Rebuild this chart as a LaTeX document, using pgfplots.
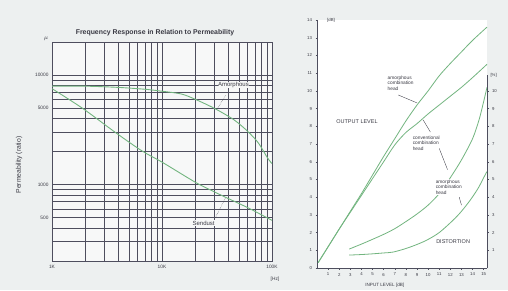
\documentclass[border=0pt]{standalone}
\usepackage{fontspec}
\setmainfont{Liberation Sans}
\usepackage{pgfplots}
\pgfplotsset{compat=1.18}
\definecolor{bgc}{HTML}{EDF0F0}
\definecolor{plotbg}{HTML}{F7F8F8}
\definecolor{gridc}{HTML}{4E4E5E}
\definecolor{crv}{HTML}{72B57F}
\definecolor{txt}{HTML}{3A3A44}
\begin{document}
\begin{tikzpicture}[x=1pt,y=1pt]
\useasboundingbox (0,0) rectangle (508,290);
\fill[bgc] (0,0) rectangle (508,290);
% ---------------- left chart ----------------
\begin{axis}[
  at={(52pt,29pt)}, anchor=south west,
  scale only axis, width=220pt, height=219pt,
  xmode=log, ymode=log,
  xmin=1000, xmax=100000, ymin=200, ymax=20000,
  xtick={1000,10000,100000}, xticklabels={1K,10K,100K},
  minor xtick={2000,3000,4000,5000,6000,7000,8000,9000,20000,30000,40000,50000,60000,70000,80000,90000},
  ytick={1000,10000}, yticklabels={1000,10000},
  extra y ticks={500,5000}, extra y tick labels={500,5000},
  minor ytick={200,300,400,500,600,700,800,900,2000,3000,4000,5000,6000,7000,8000,9000,20000},
  grid=both,
  major grid style={gridc, line width=0.6pt},
  minor grid style={gridc, line width=0.45pt},
  extra y tick style={grid=major},
  axis line style={gridc, line width=0.7pt},
  axis background/.style={fill=plotbg},
  tick style={draw=none},
  /pgf/number format/assume math mode=true,
  ticklabel style={font=\fontsize{4.8}{5}\selectfont, text=txt},
  xticklabel style={yshift=-1pt},
  clip=true,
]
\addplot[crv, line width=0.9pt, smooth] coordinates {
 (1000,7900) (2000,7900) (4000,7700) (7000,7400) (10000,7100) (15000,6700)
 (20000,6000) (30000,4950) (45000,3900) (60000,3060) (75000,2400) (91000,1750) (100000,1550)};
\addplot[crv, line width=0.9pt, smooth] coordinates {
 (1000,7500) (1900,4950) (3850,2940) (6600,2020) (10000,1600) (20000,1050)
 (28000,884) (37800,764) (60000,615) (91000,494) (100000,470)};
\node[font=\fontsize{6}{7}\selectfont, text=txt, fill=plotbg, inner sep=0.5pt] at (axis cs:44600,8130) {Amorphous};
\draw[txt, line width=0.4pt, densely dotted] (axis cs:37800,6480) -- (axis cs:32000,4950);
\node[font=\fontsize{6}{7}\selectfont, text=txt, fill=plotbg, inner sep=0.5pt] at (axis cs:23900,446) {Sendust};
\draw[txt, line width=0.4pt, densely dotted] (axis cs:30600,500) -- (axis cs:37800,755);
\end{axis}
\node[font=\bfseries\fontsize{6.9}{8}\selectfont, text=txt] at (155,257) {Frequency Response in Relation to Permeability};
\node[font=\fontsize{6}{7}\selectfont, text=txt] at (46,251) {$\mu$};
\node[font=\fontsize{6.8}{8}\selectfont, text=txt, rotate=90] at (19,125) {Permeability (ratio)};
\node[font=\fontsize{4.8}{5}\selectfont, text=txt] at (275,11) {[Hz]};
% ---------------- right chart ----------------
\begin{axis}[
  at={(317pt,22pt)}, anchor=south west,
  scale only axis, width=170pt, height=248pt,
  xmin=0, xmax=15.3, ymin=0, ymax=14,
  axis x line*=bottom, axis y line*=left,
  axis line style={-, gridc, line width=0.6pt},
  axis background/.style={fill=white},
  xtick={1,2,...,15}, ytick={0,1,...,14},
  tick style={gridc, line width=0.4pt}, tick align=outside,
  major tick length=1.5pt,
  /pgf/number format/assume math mode=true,
  ticklabel style={font=\fontsize{4.3}{5}\selectfont, text=txt},
  clip=false,
]
\addplot[crv, line width=0.8pt, smooth] coordinates {
 (0.1,0.3) (1,1.2) (2,2.2) (3,3.2) (4,4.2) (5,5.25) (6,6.3) (7,7.3) (8,8.3)
 (9,9.2) (10,10.0) (11,10.85) (12,11.55) (13,12.2) (14,12.85) (15.3,13.6)};
\addplot[crv, line width=0.8pt, smooth] coordinates {
 (0.1,0.3) (1,1.2) (2,2.2) (3,3.15) (4,4.1) (5,5.05) (6,6.0) (7,6.95) (8,7.65)
 (9,8.15) (10,8.7) (11,9.2) (12,9.7) (13,10.2) (14,10.75) (15.3,11.5)};
\addplot[crv, line width=0.8pt, smooth] coordinates {
 (2.9,1.07) (4,1.35) (5,1.62) (6,1.9) (7,2.22) (8,2.62) (9,3.05) (10,3.55)
 (11,4.2) (12,5.1) (13,6.1) (14,7.3) (14.6,8.4) (15,9.4) (15.3,10.2)};
\addplot[crv, line width=0.8pt, smooth] coordinates {
 (2.9,0.73) (4,0.76) (5,0.8) (6,0.85) (6.85,0.9) (8,1.1) (9,1.33) (9.9,1.58)
 (11,2.0) (12.25,2.7) (13,3.2) (13.8,3.84) (14.5,4.5) (15,5.1) (15.3,5.45)};
\node[font=\fontsize{4.8}{5.4}\selectfont, text=txt, align=left, anchor=west, fill=white, inner sep=0.5pt] at (axis cs:6.3,10.45) {amorphous\\combination\\head};
\draw[txt, line width=0.35pt] (axis cs:7.3,9.77) -- (axis cs:9.0,9.32);
\node[font=\fontsize{5.5}{6}\selectfont, text=txt] at (axis cs:3.6,8.24) {OUTPUT LEVEL};
\node[font=\fontsize{4.8}{5.4}\selectfont, text=txt, align=left, anchor=west, fill=white, inner sep=0.5pt] at (axis cs:8.56,7.06) {conventional\\combination\\head};
\draw[txt, line width=0.35pt] (axis cs:10.2,7.68) -- (axis cs:9.55,8.36);
\draw[txt, line width=0.35pt] (axis cs:11.0,6.75) -- (axis cs:11.75,5.55);
\node[font=\fontsize{4.8}{5.4}\selectfont, text=txt, align=left, anchor=west, fill=white, inner sep=0.5pt] at (axis cs:10.63,4.57) {amorphous\\combination\\head};
\draw[txt, line width=0.35pt] (axis cs:12.8,4.0) -- (axis cs:13.0,3.55);
\node[font=\fontsize{5.5}{6}\selectfont, text=txt] at (axis cs:12.25,1.47) {DISTORTION};
\node[font=\fontsize{4.3}{5}\selectfont, text=txt, anchor=west] at (axis cs:0.6,14) {[dB]};
\node[font=\fontsize{4.6}{5}\selectfont, text=txt] at (axis cs:6.1,-1.0) {INPUT LEVEL [dB]};
\end{axis}
\begin{axis}[
  at={(317pt,22pt)}, anchor=south west,
  scale only axis, width=170pt, height=193.1pt,
  xmin=0, xmax=15.3, ymin=0, ymax=10.9,
  axis y line*=right, axis x line=none,
  axis line style={-, gridc, line width=0.6pt},
  ytick={1,2,...,10},
  tick style={gridc, line width=0.4pt}, tick align=outside,
  major tick length=1.5pt,
  /pgf/number format/assume math mode=true,
  ticklabel style={font=\fontsize{4.3}{5}\selectfont, text=txt},
  clip=false,
]
\node[font=\fontsize{4.3}{5}\selectfont, text=txt, anchor=west] at (rel axis cs:1,1) {[\%]};
\end{axis}
\end{tikzpicture}
\end{document}
